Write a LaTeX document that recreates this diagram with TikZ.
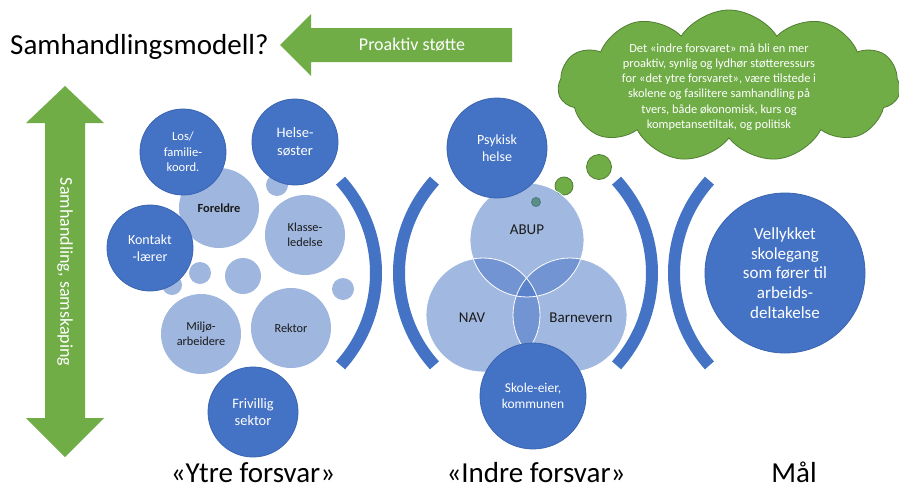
\documentclass[tikz,border=0pt]{standalone}
\usepackage{fontspec}
\setmainfont{Carlito}
\usetikzlibrary{shapes.symbols}
\definecolor{dblue}{HTML}{4472C4}
\definecolor{dblueline}{HTML}{3B65B0}
\definecolor{lblue}{HTML}{9FB6DF}
\definecolor{grn}{HTML}{70AD47}
\definecolor{dgrn}{HTML}{507E32}
\definecolor{txt}{HTML}{1A1A1A}
\newcommand\myfs[2]{\fontsize{#1}{#2}\selectfont}
\begin{document}
\begin{tikzpicture}[x=1pt,y=-1pt,
  dk/.style={circle, fill=dblue, draw=dblueline, line width=0.8pt, text=white, inner sep=0pt, align=center},
  lt/.style={circle, fill=lblue, draw=none, text=txt, inner sep=0pt, align=center},
  vennc/.style={circle, fill=dblue, fill opacity=0.5, draw=none, inner sep=0pt, minimum size=114pt},
  brk/.style={draw=dblue, line width=12pt},
  bub/.style={circle, fill=grn, draw=dgrn, line width=0.8pt, inner sep=0pt},
  arr/.style={fill=grn},
  big/.style={inner sep=0pt, font=\myfs{29}{35}, text=black, anchor=base}
]
\useasboundingbox (0,0) rectangle (899,490);
\clip (0,0) rectangle (899,490);
\fill[white] (0,0) rectangle (899,490);

% title and top arrow
\node[big, anchor=base west] (title) at (10,54) {Samhandlingsmodell?};
\fill[arr] (280,45) -- (311,14) -- (311,28) -- (512,28) -- (512,62) -- (311,62) -- (311,76) -- cycle;
\node[text=white, font=\myfs{18}{22}, inner sep=0pt] (pro) at (412,45) {Proaktiv støtte};

% vertical double arrow
\fill[arr] (65,86) -- (104,123) -- (85,123) -- (85,418) -- (104,418) -- (65,457)
  -- (26,418) -- (45,418) -- (45,123) -- (26,123) -- cycle;
\node[rotate=-90, text=white, font=\myfs{18}{22}, inner sep=0pt] (sam) at (65,272) {Samhandling, samskaping};

% cloud and thought bubbles
\node[cloud, cloud puffs=11, cloud puff arc=115, aspect=2.3, fill=grn, draw=dgrn, line width=0.8pt,
  minimum width=342pt, minimum height=152pt] (cloud) at (729,86) {};
\node[text=white, align=center, font=\myfs{12.4}{15.2}, inner sep=0pt] (ctext) at (719,87)
  {Det «indre forsvaret» må bli en mer\\
   proaktiv, synlig og lydhør støtteressurs\\
   for «det ytre forsvaret», være tilstede i\\
   skolene og fasilitere samhandling på\\
   tvers, både økonomisk, kurs og\\
   kompetansetiltak, og politisk};
\node[bub, minimum size=25pt] (b1) at (599,167) {};
\node[bub, minimum size=18pt] (b2) at (564,186) {};
\node[bub, minimum size=9pt] (b3) at (536,202) {};

% Ytre forsvar: light circles
\node[lt, minimum size=22pt] (s1) at (277,185) {};
\node[lt, minimum size=20pt] (s5) at (172,285) {};
\node[lt, minimum size=22pt] (s2) at (200,273) {};
\node[lt, minimum size=36pt] (s3) at (243,276) {};
\node[lt, minimum size=22pt] (s4) at (343,289) {};
\node[lt, minimum size=80pt, font=\bfseries\myfs{12.4}{15}] (foreldre) at (219,208) {Foreldre};
\node[lt, minimum size=80pt, font=\myfs{12.3}{15}] (klasse) at (305,235) {Klasse-\\ledelse};
\node[lt, minimum size=80pt, font=\myfs{12.3}{15}] (miljo) at (201,334) {Miljø-\\arbeidere};
\node[lt, minimum size=80pt, font=\myfs{12.3}{15}] (rektor) at (291,328) {Rektor};
% dark circles
\node[dk, minimum size=86pt, font=\myfs{12.6}{15.4}] (los) at (183,152) {Los/\\familie-\\koord.};
\node[dk, minimum size=86pt, font=\myfs{14.5}{17.7}] (helse) at (295,142) {Helse-\\søster};
\node[dk, minimum size=86pt, font=\myfs{14}{17}] (kontakt) at (150,248) {Kontakt\\-lærer};
\node[dk, minimum size=90pt, font=\myfs{14.4}{17.6}] (frivillig) at (253,412) {Frivillig\\sektor};

% brackets
\draw[brk] ([shift={(-42:138pt)}]238,273) arc[start angle=-42, end angle=42, radius=138pt];
\draw[brk] ([shift={(138:138pt)}]537,273) arc[start angle=138, end angle=222, radius=138pt];
\draw[brk] ([shift={(-42:138pt)}]514,273) arc[start angle=-42, end angle=42, radius=138pt];
\draw[brk] ([shift={(138:138pt)}]812,273) arc[start angle=138, end angle=222, radius=138pt];

% Indre forsvar: Venn
\node[vennc] (abup) at (527,240) {};
\node[vennc] (nav) at (483,315) {};
\node[vennc] (barn) at (570,315) {};
\draw[white, line width=0.8pt] (abup.center) circle[radius=57pt];
\draw[white, line width=0.8pt] (nav.center) circle[radius=57pt];
\draw[white, line width=0.8pt] (barn.center) circle[radius=57pt];
\node[text=txt, font=\myfs{15}{18}, inner sep=0pt] (abupl) at (527,230) {ABUP};
\node[text=txt, font=\myfs{15}{18}, inner sep=0pt] (navl) at (472,318) {NAV};
\node[text=txt, font=\myfs{15}{18}, inner sep=0pt] (barnl) at (581,318) {Barnevern};
\node[dk, minimum size=100pt, font=\myfs{14}{17}] (psyk) at (497,148) {Psykisk\\helse};
\node[dk, minimum size=106pt, font=\myfs{13.5}{16.5}] (skole) at (533,396) {Skole-eier,\\kommunen};

% goal
\node[dk, minimum size=160pt, font=\myfs{17}{19.8}] (mal) at (785,273) {Vellykket\\skolegang\\som fører til\\arbeids-\\deltakelse};

% bottom labels
\node[big] (ytre) at (253,482) {«Ytre forsvar»};
\node[big] (indre) at (536,482) {«Indre forsvar»};
\node[big] (maal) at (794,482) {Mål};
\end{tikzpicture}
\end{document}
